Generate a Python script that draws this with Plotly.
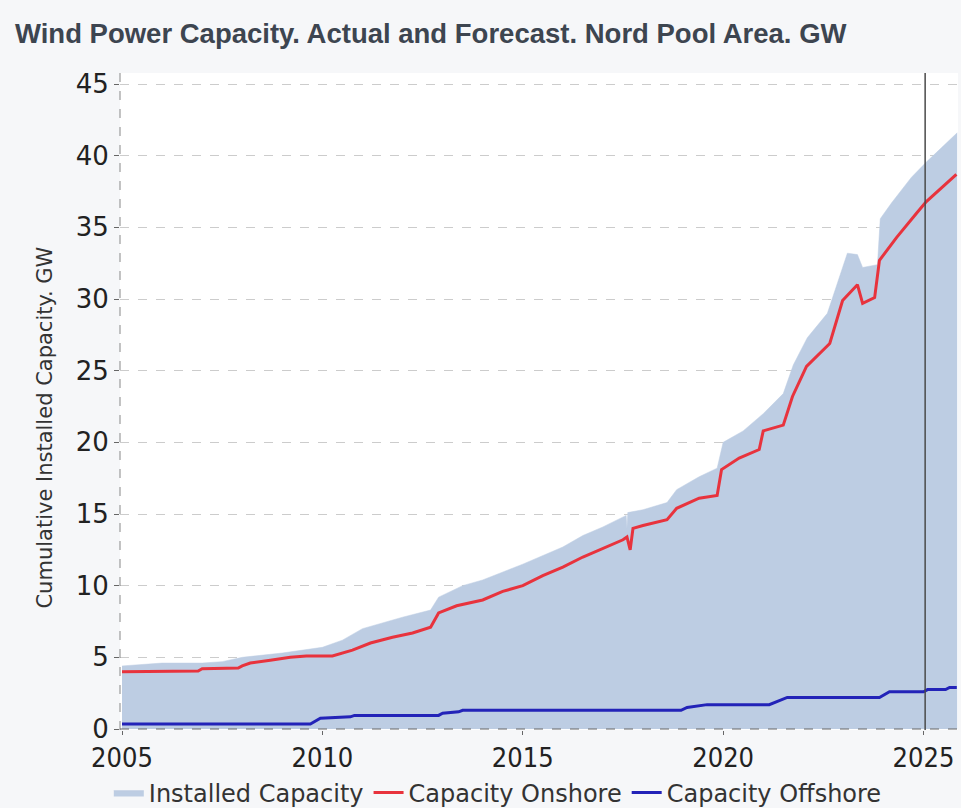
import plotly.graph_objects as go

# Installed capacity (fill), GW
years_total = [2005.0, 2005.5, 2006.0, 2007.0, 2007.5, 2008.0, 2009.0, 2010.0, 2010.5, 2011.0,
               2012.0, 2012.7, 2012.9, 2013.5, 2014.0, 2015.0, 2016.0, 2016.5, 2017.0, 2017.58,
               2017.6, 2017.62, 2018.0, 2018.6, 2018.84, 2019.4, 2019.85, 2020.0, 2020.5, 2021.0,
               2021.5, 2021.75, 2022.1, 2022.6, 2022.95, 2023.1, 2023.35, 2023.48, 2023.85, 2023.92,
               2024.2, 2024.7, 2025.05, 2025.84]
installed = [4.4, 4.5, 4.6, 4.6, 4.7, 5.0, 5.3, 5.7, 6.2, 7.0,
             7.8, 8.3, 9.2, 10.0, 10.4, 11.5, 12.7, 13.5, 14.1, 14.9,
             14.0, 15.1, 15.3, 15.8, 16.7, 17.6, 18.2, 20.0, 20.8, 22.0,
             23.4, 25.4, 27.3, 29.0, 32.0, 33.2, 33.1, 32.2, 32.4, 35.6,
             36.7, 38.5, 39.5, 41.6]

# Onshore capacity, GW
years_onshore = [2005.0, 2006.0, 2006.9, 2007.0, 2007.9, 2008.0, 2008.2, 2008.7, 2009.2, 2009.6,
                 2010.25, 2010.75, 2011.2, 2011.75, 2012.25, 2012.7, 2012.9, 2013.35, 2014.0, 2014.5,
                 2015.0, 2015.5, 2016.0, 2016.5, 2017.0, 2017.5, 2017.6, 2017.68, 2017.75, 2018.0,
                 2018.6, 2018.84, 2019.4, 2019.85, 2019.96, 2020.4, 2020.9, 2021.0, 2021.5, 2021.73,
                 2022.08, 2022.66, 2022.98, 2023.35, 2023.48, 2023.78, 2023.9, 2024.33, 2024.83, 2025.07,
                 2025.82]
onshore = [4.0, 4.0, 4.05, 4.2, 4.25, 4.4, 4.6, 4.8, 5.0, 5.1,
           5.1, 5.5, 6.0, 6.4, 6.7, 7.1, 8.1, 8.6, 9.0, 9.6,
           10.0, 10.7, 11.3, 12.0, 12.6, 13.2, 13.4, 12.5, 14.0, 14.2,
           14.6, 15.4, 16.1, 16.3, 18.1, 18.9, 19.5, 20.8, 21.2, 23.2,
           25.3, 26.9, 29.9, 31.0, 29.7, 30.1, 32.7, 34.3, 36.0, 36.8,
           38.7]

# Offshore capacity, GW
years_offshore = [2005.0, 2009.7, 2009.95, 2010.7, 2010.8, 2012.9, 2013.0, 2013.4, 2013.5, 2018.95,
                  2019.1, 2019.6, 2021.15, 2021.6, 2023.9, 2024.15, 2025.0, 2025.1, 2025.55, 2025.65,
                  2025.83]
offshore = [0.35, 0.35, 0.75, 0.85, 0.95, 0.95, 1.1, 1.2, 1.3, 1.3,
            1.5, 1.7, 1.7, 2.2, 2.2, 2.6, 2.6, 2.75, 2.75, 2.9,
            2.9]

x_ticks = [2005, 2010, 2015, 2020, 2025]
y_ticks = [0, 5, 10, 15, 20, 25, 30, 35, 40, 45]
forecast_start = 2025.04

fig = go.Figure()

fig.add_trace(go.Scatter(x=years_total, y=installed,
                         mode='lines',
                         name='Installed Capacity',
                         fill='tozeroy',
                         fillcolor='#bdcde3',
                         line=dict(color='#bdcde3', width=0.5)))

fig.add_trace(go.Scatter(x=years_onshore, y=onshore,
                         mode='lines',
                         name='Capacity Onshore',
                         line=dict(color='#e8333d', width=3)))

fig.add_trace(go.Scatter(x=years_offshore, y=offshore,
                         mode='lines',
                         name='Capacity Offshore',
                         line=dict(color='#2323b8', width=3)))

# forecast marker and dashed axis lines
fig.add_shape(type='line', xref='x', yref='paper', x0=forecast_start, x1=forecast_start, y0=0, y1=1,
              line=dict(color='#4a4a4a', width=1.5))
fig.add_shape(type='line', xref='paper', yref='paper', x0=0, x1=0, y0=0, y1=1,
              line=dict(color='#888888', width=1, dash='dash'))
fig.add_shape(type='line', xref='paper', yref='y', x0=0, x1=1, y0=0, y1=0,
              line=dict(color='#666666', width=1, dash='dash'))

# y axis title sits a bit below the plot centre in the original
fig.add_annotation(text='Cumulative Installed Capacity. GW',
                   xref='paper', yref='paper', x=-0.089, y=0.461,
                   xanchor='center', yanchor='middle', textangle=-90, showarrow=False,
                   font=dict(family='DejaVu Sans', size=21, color='#333333'))

fig.update_xaxes(range=[2004.95, 2025.86],
                 tickvals=x_ticks,
                 ticktext=[str(t) for t in x_ticks],
                 showgrid=False, zeroline=False, showline=False,
                 ticks='outside', ticklen=4, tickcolor='#666666',
                 tickfont=dict(family='DejaVu Sans Condensed, DejaVu Sans', size=27, color='#222222'))

fig.update_yaxes(range=[-0.07, 45.77],
                 tickvals=y_ticks,
                 showgrid=True, gridcolor='#cccccc', griddash='dash', gridwidth=1,
                 zeroline=False, showline=False,
                 ticks='outside', ticklen=5, tickcolor='#666666',
                 tickfont=dict(family='DejaVu Sans', size=26, color='#222222'))

fig.update_layout(width=961, height=808,
                  margin=dict(l=120, r=3, t=73, b=78, autoexpand=False),
                  paper_bgcolor='#f6f7f9',
                  plot_bgcolor='#ffffff',
                  title=dict(text='<b>Wind Power Capacity. Actual and Forecast. Nord Pool Area. GW</b>',
                             font=dict(family='Liberation Sans, Arial', size=27.5, color='#3d4550'),
                             x=0.0156, xanchor='left', xref='container',
                             y=0.959, yanchor='middle', yref='container'),
                  legend=dict(orientation='h',
                              x=0.518, xanchor='center', xref='container',
                              y=0.0186, yanchor='middle', yref='container',
                              font=dict(family='DejaVu Sans', size=24, color='#333333'),
                              bgcolor='rgba(0,0,0,0)'),
                  showlegend=True)

fig.write_html("out.html", config={'displayModeBar': False},
               post_script="document.body.style.margin='0';")
